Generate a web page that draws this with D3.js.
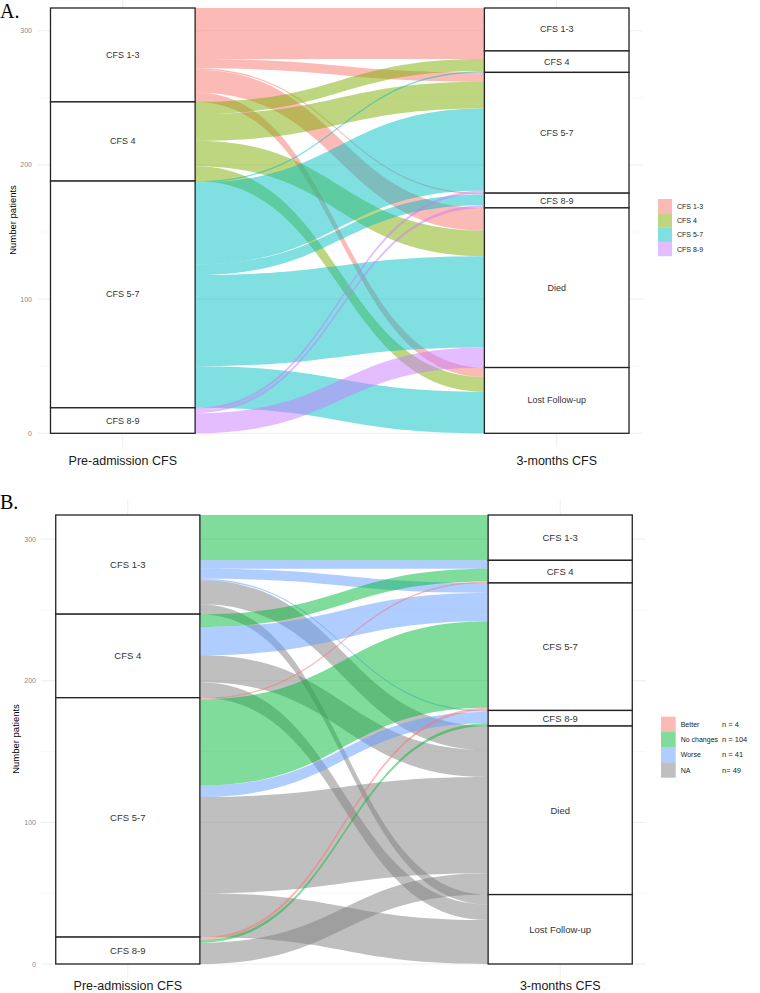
<!DOCTYPE html>
<html>
<head>
<meta charset="utf-8">
<script src="https://cdn.jsdelivr.net/npm/d3@7"></script>
<style>
  html, body { margin: 0; padding: 0; background: #fff; }
  svg { display: block; }
</style>
</head>
<body>
<svg id="chart" width="760" height="993"></svg>
<script>
// ---------------- DATA ----------------
const preStrata  = ["CFS 1-3", "CFS 4", "CFS 5-7", "CFS 8-9"];
const postStrata = ["CFS 1-3", "CFS 4", "CFS 5-7", "CFS 8-9", "Died", "Lost Follow-up"];
// patients from each pre-admission stratum to each 3-month stratum (order of postStrata)
const fromCFS13 = [32, 6, 7, 1, 17, 7];
const fromCFS4  = [0, 9, 20, 0, 19, 11];
const fromCFS57 = [0, 1, 61, 8, 68, 31];
const fromCFS89 = [0, 0, 2, 2, 15, 0];
const flowMatrix = [fromCFS13, fromCFS4, fromCFS57, fromCFS89];

const axisLabels = ["Pre-admission CFS", "3-months CFS"];
const yTicks = [0, 100, 200, 300];
const yMinorTicks = [50, 150, 250];

const colorsA = ["#F8766D", "#7CAE00", "#00BFC4", "#C77CFF"];
const changeLabels = ["Better", "No changes", "Worse", "NA"];
const changeCounts = ["n = 4", "n = 104", "n = 41", "n= 49"];
const colorsB = ["#F8766D", "#00BA38", "#619CFF", "#7F7F7F"];

// build flows
const flows = [];
flowMatrix.forEach((row, i) => row.forEach((v, j) => {
  if (v > 0) {
    let change;
    if (j >= 4) change = "NA";
    else if (j === i) change = "No changes";
    else if (j < i) change = "Better";
    else change = "Worse";
    flows.push({from: i, to: j, value: v, change});
  }
}));
const preTotals = flowMatrix.map(r => d3.sum(r));
const postTotals = postStrata.map((_, j) => d3.sum(flowMatrix, r => r[j]));
const total = d3.sum(preTotals);

const svg = d3.select("#chart");

function drawPanel(cfg) {
  const g = svg.append("g");
  const y = d3.scaleLinear().domain([0, total]).range([cfg.yBot, cfg.yTop]);
  const x = d3.scaleLinear().domain([1, 2]).range(cfg.xCenters);
  const halfW = (x(2) - x(1)) / 6;

  // grid
  const grid = g.append("g");
  grid.selectAll("line.minor").data(yMinorTicks).join("line")
    .attr("x1", cfg.panelLeft).attr("x2", cfg.panelRight)
    .attr("y1", d => y(d)).attr("y2", d => y(d))
    .attr("stroke", "#f2f2f2").attr("stroke-width", 0.5);
  grid.selectAll("line.major").data(yTicks).join("line")
    .attr("x1", cfg.panelLeft).attr("x2", cfg.panelRight)
    .attr("y1", d => y(d)).attr("y2", d => y(d))
    .attr("stroke", "#e6e6e6").attr("stroke-width", 0.7);
  grid.selectAll("line.vert").data([1, 2]).join("line")
    .attr("x1", d => x(d)).attr("x2", d => x(d))
    .attr("y1", cfg.panelTop).attr("y2", cfg.panelBottom)
    .attr("stroke", "#e6e6e6").attr("stroke-width", 0.7);

  // y tick labels
  g.selectAll("text.ytick").data(yTicks).join("text")
    .attr("x", cfg.tickRight).attr("y", d => y(d))
    .attr("text-anchor", "end").attr("dominant-baseline", "central")
    .attr("font-family", "Liberation Sans, Arial, sans-serif")
    .attr("font-size", 7).attr("fill", "#8a8a8a")
    .text(d => d);

  // y title
  g.append("text")
    .attr("transform", `translate(${cfg.yTitleX},${(cfg.panelTop + cfg.panelBottom) / 2}) rotate(-90)`)
    .attr("text-anchor", "middle").attr("dominant-baseline", "central")
    .attr("font-family", "Liberation Sans, Arial, sans-serif")
    .attr("font-size", 9.5).attr("fill", "#000")
    .text("Number patients");

  // stacking positions
  const preStart = [], postStart = [];
  let acc = total;
  preTotals.forEach((t, i) => { preStart[i] = acc; acc -= t; });
  acc = total;
  postTotals.forEach((t, j) => { postStart[j] = acc; acc -= t; });
  const preCursor = preStart.slice(), postCursor = postStart.slice();
  // left: within each from-stratum order by destination
  flows.slice().sort((a, b) => a.from - b.from || a.to - b.to).forEach(f => {
    f.l0 = preCursor[f.from]; f.l1 = f.l0 - f.value; preCursor[f.from] = f.l1;
  });
  // right: within each to-stratum order by origin
  flows.slice().sort((a, b) => a.to - b.to || a.from - b.from).forEach(f => {
    f.r0 = postCursor[f.to]; f.r1 = f.r0 - f.value; postCursor[f.to] = f.r1;
  });

  const x0 = x(1) + halfW, x1 = x(2) - halfW, xm = (x0 + x1) / 2;
  const flowPath = f => {
    const a = y(f.l0), b = y(f.l1), c = y(f.r0), d = y(f.r1);
    return `M${x0},${a} C${xm},${a} ${xm},${c} ${x1},${c} L${x1},${d} C${xm},${d} ${xm},${b} ${x0},${b} Z`;
  };
  g.append("g").selectAll("path").data(flows).join("path")
    .attr("d", flowPath)
    .attr("fill", cfg.flowColor)
    .attr("fill-opacity", 0.5)
    .attr("stroke", "none");

  // strata boxes
  const strata = [];
  preStrata.forEach((s, i) => strata.push({axis: 1, label: s, top: preStart[i], bot: preStart[i] - preTotals[i]}));
  postStrata.forEach((s, j) => strata.push({axis: 2, label: s, top: postStart[j], bot: postStart[j] - postTotals[j]}));
  const sg = g.append("g");
  sg.selectAll("rect").data(strata).join("rect")
    .attr("x", d => x(d.axis) - halfW).attr("width", 2 * halfW)
    .attr("y", d => y(d.top)).attr("height", d => y(d.bot) - y(d.top))
    .attr("fill", "#fff").attr("stroke", "#222").attr("stroke-width", 1.3);
  sg.selectAll("text").data(strata).join("text")
    .attr("x", d => x(d.axis)).attr("y", d => (y(d.top) + y(d.bot)) / 2)
    .attr("text-anchor", "middle").attr("dominant-baseline", "central")
    .attr("font-family", "Liberation Sans, Arial, sans-serif")
    .attr("font-size", cfg.strataFont).attr("fill", "#333")
    .text(d => d.label);

  // x axis labels
  g.selectAll("text.xlab").data([1, 2]).join("text")
    .attr("x", d => x(d)).attr("y", cfg.xTitleY)
    .attr("text-anchor", "middle").attr("dominant-baseline", "central")
    .attr("font-family", "Liberation Sans, Arial, sans-serif")
    .attr("font-size", 12.5).attr("fill", "#1a1a1a")
    .text(d => axisLabels[d - 1]);

  // panel letter
  g.append("text").attr("x", 0).attr("y", cfg.letterY)
    .attr("font-family", "Liberation Serif, Times New Roman, serif")
    .attr("font-size", 20).attr("fill", "#000")
    .text(cfg.letter);

  // legend
  const lg = g.append("g");
  cfg.legendLabels.forEach((lab, i) => {
    const yy = cfg.legendTop + i * cfg.keyH;
    lg.append("rect").attr("x", cfg.legendX).attr("y", yy)
      .attr("width", cfg.keyW).attr("height", cfg.keyH)
      .attr("fill", cfg.legendColors[i]).attr("fill-opacity", 0.5);
    lg.append("text").attr("x", cfg.legendX + cfg.keyW + 5).attr("y", yy + cfg.keyH / 2)
      .attr("dominant-baseline", "central")
      .attr("font-family", "Liberation Sans, Arial, sans-serif")
      .attr("font-size", cfg.legendFont).attr("fill", "#222")
      .text(lab);
    if (cfg.legendCounts) {
      lg.append("text").attr("x", cfg.countX).attr("y", yy + cfg.keyH / 2)
        .attr("dominant-baseline", "central")
        .attr("font-family", "Liberation Sans, Arial, sans-serif")
        .attr("font-size", cfg.legendFont + 0.5).attr("fill", "#222")
        .text(cfg.legendCounts[i]);
    }
  });
}

drawPanel({
  letter: "A.", letterY: 18,
  yTop: 8, yBot: 433.3, xCenters: [122.8, 556.7],
  panelLeft: 38, panelRight: 643, panelTop: -7, panelBottom: 447,
  tickRight: 32, yTitleX: 12.7, xTitleY: 461, strataFont: 9,
  flowColor: f => colorsA[f.from],
  legendLabels: preStrata, legendColors: colorsA,
  legendX: 658, legendTop: 199, keyW: 14, keyH: 14.3, legendFont: 7
});

drawPanel({
  letter: "B.", letterY: 509,
  yTop: 515, yBot: 964, xCenters: [127.8, 560.2],
  panelLeft: 41, panelRight: 646, panelTop: 500, panelBottom: 978,
  tickRight: 36, yTitleX: 15, xTitleY: 986, strataFont: 9.5,
  flowColor: f => colorsB[changeLabels.indexOf(f.change)],
  legendLabels: changeLabels, legendColors: colorsB, legendCounts: changeCounts,
  legendX: 661, legendTop: 716.7, keyW: 14.7, keyH: 15.25, legendFont: 7, countX: 722
});
</script>
</body>
</html>
